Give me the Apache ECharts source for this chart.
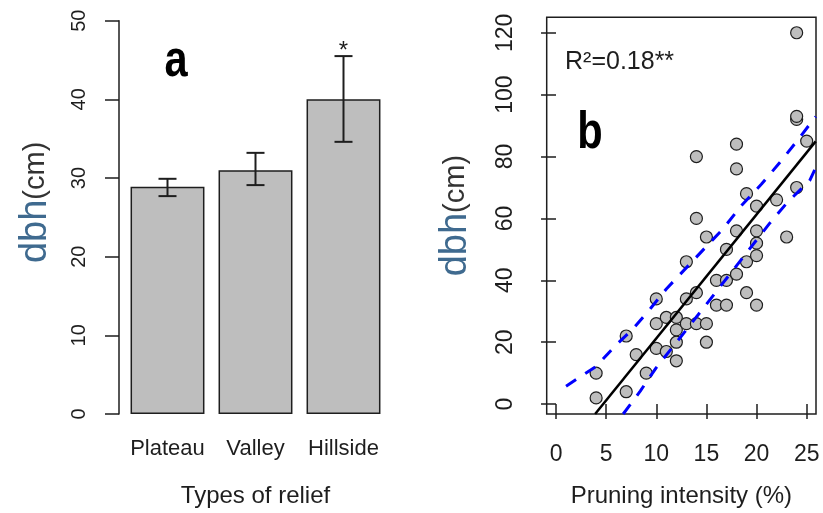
<!DOCTYPE html>
<html>
<head>
<meta charset="utf-8">
<script src="https://cdn.jsdelivr.net/npm/echarts@6/dist/echarts.min.js"></script>
<style>
html, body { margin: 0; padding: 0; background: #fff; }
#chart { width: 823px; height: 513px; }
</style>
</head>
<body>
<div id="chart"></div>
<script>
/************************************ 数据 a: dbh 按地形 *******************************/
var reliefTypes = ['Plateau', 'Valley', 'Hillside'];
var dbhMean = [28.9, 31.0, 40.0];
var dbhLow = [27.7, 29.1, 34.6];
var dbhHigh = [29.9, 33.2, 45.5];
var dbhSig = ['', '', '*'];

/************************************ 数据 b: 修枝强度 vs dbh *******************************/
var pruneX = [4, 4, 7, 7, 8, 9, 10, 10, 10, 11, 11, 12, 12, 12, 12, 13, 13, 13, 14, 14, 14, 14, 15, 15, 15,
  16, 16, 17, 17, 17, 18, 18, 18, 18, 19, 19, 19, 20, 20, 20, 20, 20, 22, 23, 24, 24, 24, 24, 25];
var pruneY = [2, 10, 4, 22, 16, 10, 18, 26, 34, 17, 28, 14, 20, 24, 28, 26, 34, 46, 26, 36, 60, 80, 20, 26, 54,
  32, 40, 32, 40, 50, 42, 56, 76, 84, 36, 46, 68, 32, 48, 52, 56, 64, 66, 54, 70, 92, 93, 120, 85];
var fitX = [3.9, 25.9];
var fitY = [-3.2, 84.9];
var upperX = [1, 4, 6, 7.7, 9.4, 11, 16.7, 18.5, 20.5, 22.3, 24, 25.9];
var upperY = [5.8, 12.2, 19.1, 24.4, 30.8, 37.2, 56.8, 64.2, 71.1, 78, 84.9, 92.9];
var lowerX = [6.7, 8.4, 10, 13, 21.3, 23.1, 25.3, 25.9];
var lowerY = [-3.2, 4.2, 11.8, 24, 58.4, 65.3, 72.2, 76.4];
var xTicksB = [0, 5, 10, 15, 20, 25];
var yTicksB = [0, 20, 40, 60, 80, 100, 120];

var fontS = '"Liberation Sans", Arial, sans-serif';
var ink = '#1e1e1e';

var zip = function (xs, ys) {
  return xs.map(function (x, i) { return [x, ys[i]]; });
};

var yName = {
  rich: {
    d: { fontFamily: fontS, fontSize: 38, color: '#3f6a8f', verticalAlign: 'middle' },
    c: { fontFamily: fontS, fontSize: 29, color: '#333', verticalAlign: 'middle' }
  }
};

// 误差线
function renderErr(params, api) {
  var i = api.value(0);
  var lo = api.coord([i, api.value(1)]);
  var hi = api.coord([i, api.value(2)]);
  var half = 9;
  var st = { stroke: ink, lineWidth: 2 };
  return {
    type: 'group',
    children: [
      { type: 'line', shape: { x1: hi[0], y1: hi[1], x2: lo[0], y2: lo[1] }, style: st },
      { type: 'line', shape: { x1: hi[0] - half, y1: hi[1], x2: hi[0] + half, y2: hi[1] }, style: st },
      { type: 'line', shape: { x1: lo[0] - half, y1: lo[1], x2: lo[0] + half, y2: lo[1] }, style: st },
      { type: 'text', style: { text: dbhSig[params.dataIndex], x: hi[0], y: hi[1] - 5, align: 'center',
        verticalAlign: 'middle', fontFamily: fontS, fontSize: 24, fill: ink } }
    ]
  };
}

var chart = echarts.init(document.getElementById('chart'));
var option = {
  animation: false,
  backgroundColor: '#fff',
  textStyle: { fontFamily: fontS },
  graphic: [
    { type: 'text', x: 176, y: 62, scaleX: 0.8, style: { text: 'a', font: 'bold 52px ' + fontS, fill: '#000', align: 'center', verticalAlign: 'middle' } },
    { type: 'text', x: 590, y: 134, scaleX: 0.8, style: { text: 'b', font: 'bold 52px ' + fontS, fill: '#000', align: 'center', verticalAlign: 'middle' } },
    { type: 'text', x: 565, y: 62, style: { text: 'R\u00b2=0.18**', font: '25px ' + fontS, fill: ink, align: 'left', verticalAlign: 'middle' } }
  ],
  grid: [
    { left: 123.5, top: 20.7, width: 264, height: 402.6 },
    { left: 546.7, top: 17.3, width: 269.3, height: 402.7, show: true, borderColor: ink, borderWidth: 1.5, backgroundColor: 'transparent' }
  ],
  xAxis: [
    {
      gridIndex: 0, type: 'category', data: reliefTypes,
      axisLine: { show: false }, axisTick: { show: false },
      axisLabel: { fontSize: 22, color: ink, margin: 24, interval: 0 },
      name: 'Types of relief', nameLocation: 'middle', nameGap: 70,
      nameTextStyle: { fontSize: 24, color: ink }
    },
    {
      gridIndex: 1, type: 'value', min: -0.93, max: 25.93,
      splitLine: { show: false }, axisLine: { show: false },
      axisTick: { show: true, length: 15, lineStyle: { color: ink, width: 1.5 }, customValues: xTicksB },
      axisLabel: { fontSize: 23, color: ink, margin: 29, customValues: xTicksB },
      name: 'Pruning intensity (%)', nameLocation: 'middle', nameGap: 70,
      nameTextStyle: { fontSize: 24, color: ink }
    }
  ],
  yAxis: [
    {
      gridIndex: 0, type: 'value', min: 0, max: 50, interval: 10, offset: 4.5,
      splitLine: { show: false },
      axisLine: { show: true, lineStyle: { color: ink, width: 1.5 } },
      axisTick: { show: true, length: 14, lineStyle: { color: ink, width: 1.5 } },
      axisLabel: { rotate: 90, fontSize: 20, color: ink, margin: 30 },
      name: '{d|dbh}{c|(cm)}', nameLocation: 'middle', nameRotate: 90, nameGap: 64,
      nameTextStyle: Object.assign({ padding: [0, 0, 0, 30] }, yName)
    },
    {
      gridIndex: 1, type: 'value', min: -3.2, max: 125,
      splitLine: { show: false }, axisLine: { show: false },
      axisTick: { show: true, length: 15, lineStyle: { color: ink, width: 1.5 }, customValues: yTicksB },
      axisLabel: { rotate: 90, fontSize: 23, color: ink, margin: 30, customValues: yTicksB },
      name: '{d|dbh}{c|(cm)}', nameLocation: 'middle', nameRotate: 90, nameGap: 72,
      nameTextStyle: yName
    }
  ],
  series: [
    {
      type: 'bar', xAxisIndex: 0, yAxisIndex: 0, data: dbhMean, barCategoryGap: '16%',
      itemStyle: { color: '#bebebe', borderColor: ink, borderWidth: 1.5 }
    },
    {
      type: 'custom', xAxisIndex: 0, yAxisIndex: 0, renderItem: renderErr, z: 5,
      data: reliefTypes.map(function (r, i) { return [i, dbhLow[i], dbhHigh[i]]; })
    },
    {
      type: 'scatter', xAxisIndex: 1, yAxisIndex: 1, data: zip(pruneX, pruneY), symbolSize: 12,
      itemStyle: { color: '#bebebe', borderColor: ink, borderWidth: 1.2, opacity: 1 }
    },
    {
      type: 'line', xAxisIndex: 1, yAxisIndex: 1, data: zip(upperX, upperY), symbol: 'none', z: 4,
      lineStyle: { color: '#0000ff', width: 3, type: [12, 11] }
    },
    {
      type: 'line', xAxisIndex: 1, yAxisIndex: 1, data: zip(lowerX, lowerY), symbol: 'none', z: 4,
      lineStyle: { color: '#0000ff', width: 3, type: [12, 11] }
    },
    {
      type: 'line', xAxisIndex: 1, yAxisIndex: 1, data: zip(fitX, fitY), symbol: 'none', z: 4,
      lineStyle: { color: '#000', width: 2.5 }
    }
  ]
};
chart.setOption(option);
</script>
</body>
</html>
